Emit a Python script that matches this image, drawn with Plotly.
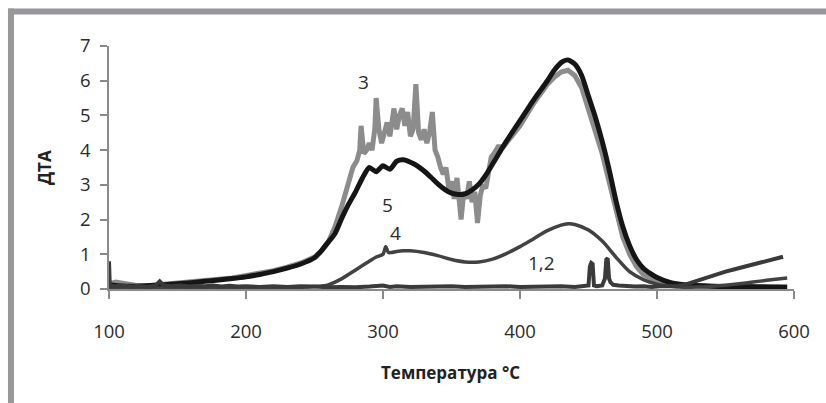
import plotly.graph_objects as go

# ---- data ----
temp3 = [100, 105, 110, 115, 120, 130, 140, 150, 160, 170,
         180, 190, 200, 210, 220, 230, 240, 250, 255, 260,
         265, 270, 274, 278, 281, 283, 284, 286, 288, 290,
         292, 294, 295, 297, 299, 301, 303, 305, 307, 308,
         310, 312, 314, 316, 318, 320, 322, 324, 326, 328,
         330, 332, 334, 336, 338, 340, 342, 344, 346, 348,
         350, 352, 354, 356, 357, 359, 361, 363, 365, 367,
         369, 371, 373, 375, 377, 379, 381, 384, 388, 392,
         400, 410, 420, 425, 430, 435, 440, 445, 450, 455,
         460, 465, 470, 475, 480, 485, 490, 495, 500, 510,
         520, 540, 560, 580, 595]
dta3 = [0.15, 0.2, 0.17, 0.12, 0.1, 0.1, 0.13, 0.16, 0.2, 0.24,
        0.28, 0.32, 0.38, 0.45, 0.53, 0.63, 0.75, 0.92, 1.1, 1.35,
        1.8, 2.4, 3.0, 3.5, 3.7, 4.0, 4.7, 3.9, 4.0, 4.2,
        4.0, 4.6, 5.5, 4.6, 4.2, 4.5, 4.8, 4.4, 5.0, 5.2,
        4.6, 5.0, 5.2, 4.7, 5.1, 4.4, 4.6, 5.9, 4.5, 4.3,
        4.6, 4.2, 4.5, 5.1, 4.0, 3.8, 3.5, 3.3, 3.5, 2.9,
        3.1, 2.6, 3.2, 2.4, 2.0, 2.8, 2.6, 3.1, 2.5, 2.8,
        1.9, 2.7, 3.0, 2.9, 3.3, 3.8, 3.9, 4.1, 4.1, 4.3,
        4.7, 5.35, 5.9, 6.1, 6.25, 6.3, 6.15, 5.8, 5.2, 4.6,
        3.9, 3.1, 2.3, 1.5, 1.0, 0.65, 0.42, 0.3, 0.22, 0.14,
        0.1, 0.08, 0.07, 0.06, 0.06]

temp5 = [100, 110, 120, 130, 140, 150, 160, 170, 180, 190,
         200, 210, 220, 230, 240, 250, 255, 260, 265, 270,
         275, 280, 285, 290, 295, 300, 305, 310, 315, 320,
         325, 330, 335, 340, 345, 350, 355, 360, 365, 370,
         375, 380, 390, 400, 410, 420, 425, 430, 435, 440,
         445, 450, 455, 460, 465, 470, 475, 480, 485, 490,
         495, 500, 510, 520, 540, 560, 580, 595]
dta5 = [0.12, 0.08, 0.08, 0.1, 0.12, 0.15, 0.18, 0.22, 0.26, 0.3,
        0.35, 0.42, 0.5, 0.6, 0.72, 0.9, 1.1, 1.35, 1.6, 2.05,
        2.45, 2.8, 3.2, 3.5, 3.38, 3.55, 3.45, 3.68, 3.72, 3.65,
        3.55, 3.4, 3.22, 3.03, 2.87, 2.76, 2.72, 2.74, 2.85, 3.02,
        3.28, 3.6, 4.25, 4.85, 5.45, 6.0, 6.3, 6.52, 6.6, 6.48,
        6.15, 5.55, 4.95, 4.25, 3.45, 2.55, 1.8, 1.25, 0.85, 0.6,
        0.45, 0.33, 0.18, 0.12, 0.08, 0.07, 0.06, 0.05]

temp4 = [100, 150, 200, 240, 250, 260, 270, 280, 290, 295,
         300, 302, 304, 306, 310, 315, 320, 330, 340, 350,
         360, 370, 380, 390, 400, 410, 420, 430, 435, 440,
         450, 460, 470, 480, 490, 500, 510, 520, 530, 540,
         550, 560, 570, 580, 595]
dta4 = [0.03, 0.03, 0.04, 0.05, 0.07, 0.12, 0.3, 0.55, 0.8, 0.92,
        1.0, 1.22, 1.05, 1.05, 1.08, 1.1, 1.1, 1.05, 0.96, 0.85,
        0.78, 0.78, 0.86, 1.02, 1.22, 1.45, 1.68, 1.84, 1.88, 1.86,
        1.7, 1.38, 0.92, 0.5, 0.27, 0.14, 0.08, 0.05, 0.06, 0.08,
        0.11, 0.15, 0.2, 0.25, 0.32]

temp12 = [100, 100.6, 104, 110, 116, 122, 128, 134, 137, 140,
          146, 152, 158, 164, 170, 176, 182, 188, 194, 200,
          210, 220, 230, 240, 250, 260, 270, 280, 290, 300,
          305, 310, 320, 330, 340, 350, 360, 370, 380, 390,
          400, 410, 420, 430, 440, 448, 450, 451, 452, 453,
          454, 456, 460, 462, 463, 464, 465, 466, 468, 472,
          478, 484, 490, 496, 502, 508, 514, 520, 526, 532,
          538, 544, 550, 556, 562, 568, 574, 580, 586, 592]
dta12 = [0.8, 0.1, 0.08, 0.1, 0.07, 0.09, 0.06, 0.1, 0.22, 0.1,
         0.08, 0.1, 0.07, 0.09, 0.08, 0.1, 0.07, 0.09, 0.07, 0.08,
         0.06, 0.08, 0.06, 0.08, 0.07, 0.05, 0.06, 0.05, 0.07, 0.1,
         0.06, 0.08, 0.06, 0.07, 0.06, 0.08, 0.06, 0.07, 0.06, 0.08,
         0.06, 0.07, 0.06, 0.08, 0.06, 0.07, 0.1, 0.65, 0.75, 0.72,
         0.1, 0.08, 0.1, 0.3, 0.85, 0.88, 0.3, 0.2, 0.12, 0.1,
         0.08, 0.07, 0.08, 0.06, 0.08, 0.07, 0.08, 0.12, 0.2, 0.26,
         0.36, 0.44, 0.5, 0.56, 0.62, 0.7, 0.75, 0.8, 0.87, 0.93]

x_ticks = [100, 200, 300, 400, 500, 600]
y_ticks = [0, 1, 2, 3, 4, 5, 6, 7]

curve_labels = ["3", "5", "4", "1,2"]
label_x = [286, 303, 309, 416]
label_y = [5.95, 2.43, 1.6, 0.75]

x_title = "Температура °C"
y_title = "ДТА"

FONT = "Open Sans"

fig = go.Figure()
fig.add_trace(go.Scatter(x=temp3, y=dta3, mode="lines",
                         line=dict(color="#8c8c8c", width=5), hoverinfo="skip"))
fig.add_trace(go.Scatter(x=temp5, y=dta5, mode="lines",
                         line=dict(color="#151515", width=5, shape="spline", smoothing=0.6),
                         hoverinfo="skip"))
fig.add_trace(go.Scatter(x=temp4, y=dta4, mode="lines",
                         line=dict(color="#424242", width=3.5, shape="spline", smoothing=0.8),
                         hoverinfo="skip"))
fig.add_trace(go.Scatter(x=temp12, y=dta12, mode="lines",
                         line=dict(color="#3a3a3a", width=4), hoverinfo="skip"))

for t, xv, yv in zip(curve_labels, label_x, label_y):
    fig.add_annotation(x=xv, y=yv, text=t, showarrow=False,
                       font=dict(family=FONT, size=19, color="#2b2b2b"))

# axis titles
fig.add_annotation(xref="paper", yref="paper", x=0.498, y=-0.342, text="<b>" + x_title + "</b>",
                   showarrow=False, xanchor="center", yanchor="middle",
                   font=dict(family=FONT, size=17, color="#222222"))
fig.add_annotation(xref="paper", yref="paper", x=-0.095, y=0.502, text="<b>" + y_title + "</b>",
                   showarrow=False, textangle=-90, xanchor="center", yanchor="middle",
                   font=dict(family=FONT, size=17, color="#222222"))

# grey frame (top and left edges visible)
fx = -0.1431
fy = 1.142
fig.add_shape(type="line", xref="paper", yref="paper", x0=fx, x1=fx, y0=-1, y1=fy + 0.012,
              line=dict(color="#98989b", width=6))
fig.add_shape(type="line", xref="paper", yref="paper", x0=fx - 0.004, x1=1.2, y0=fy, y1=fy,
              line=dict(color="#98989b", width=6))

axis_common = dict(showgrid=False, zeroline=False, showline=True, linecolor="#8a8a8a",
                   linewidth=1.5, ticks="outside", tickcolor="#8a8a8a", tickwidth=1.5,
                   tickfont=dict(family=FONT, size=18.5, color="#2b2b2b"))

fig.update_xaxes(range=[100, 600], tickvals=x_ticks, ticklen=8, ticklabelstandoff=17,
                 **axis_common)
fig.update_yaxes(range=[0, 7], tickvals=y_ticks, ticklen=7, ticklabelstandoff=6,
                 **axis_common)

fig.update_layout(width=826, height=403, autosize=False, showlegend=False,
                  margin=dict(l=109, r=32, t=46, b=114),
                  paper_bgcolor="white", plot_bgcolor="white")

fig.write_html("out.html", config={"displayModeBar": False},
               post_script="document.body.style.margin='0';document.body.style.overflow='hidden';")
